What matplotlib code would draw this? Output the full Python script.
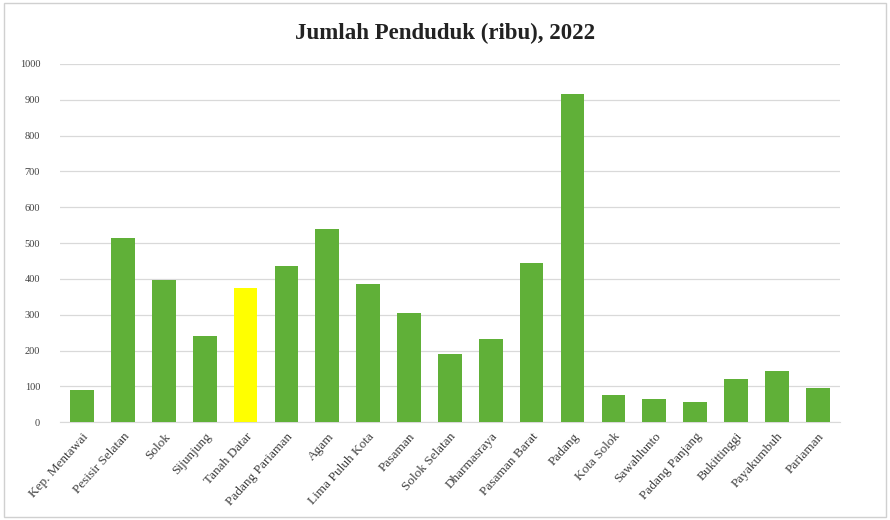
import numpy as np
import matplotlib.pyplot as plt

wilayah = ["Kep. Mentawai", "Pesisir Selatan", "Solok", "Sijunjung", "Tanah Datar",
           "Padang Pariaman", "Agam", "Lima Puluh Kota", "Pasaman", "Solok Selatan",
           "Dharmasraya", "Pasaman Barat", "Padang", "Kota Solok", "Sawahlunto",
           "Padang Panjang", "Bukittinggi", "Payakumbuh", "Pariaman"]
penduduk = [89, 515, 398, 240, 375, 436, 540, 386, 305, 190,
            233, 444, 915, 75, 65, 57, 122, 142, 96]
sorot = "Tanah Datar"
yticks = list(range(0, 1001, 100))

plt.rcParams['font.family'] = ['Liberation Serif', 'DejaVu Serif']

fig = plt.figure(figsize=(8.9, 5.2), dpi=100)
ax = fig.add_axes([0.067, 0.188, 0.877, 0.689])

x = np.arange(len(wilayah))
warna = ['#ffff00' if w == sorot else '#60b038' for w in wilayah]
ax.bar(x, penduduk, width=0.58, color=warna, zorder=3)

ax.set_ylim(0, 1000)
ax.set_xlim(-0.55, len(wilayah) - 0.45)
ax.set_yticks(yticks)
ax.set_yticklabels([str(v) for v in yticks], fontsize=7.5, color='#404040')
ax.yaxis.grid(True, color='#d9d9d9', linewidth=0.9, zorder=0)
ax.set_xticks(x)
ax.set_xticklabels(wilayah, rotation=48, ha='right', rotation_mode='anchor',
                   fontsize=9.5, color='#404040')
ax.tick_params(axis='both', length=0)
ax.tick_params(axis='y', pad=14)
ax.tick_params(axis='x', pad=6)
for s in ['top', 'right', 'left']:
    ax.spines[s].set_visible(False)
ax.spines['bottom'].set_color('#d9d9d9')

fig.text(0.5, 0.935, "Jumlah Penduduk (ribu), 2022", ha='center', va='center',
         fontsize=16.5, fontweight='bold', color='#222222')

# bingkai tipis di sekeliling gambar
fig.patches.append(plt.Rectangle((0.004, 0.006), 0.992, 0.988, transform=fig.transFigure,
                                 fill=False, edgecolor='#d0d0d0', linewidth=1))

fig.savefig("out.png", dpi=100)
